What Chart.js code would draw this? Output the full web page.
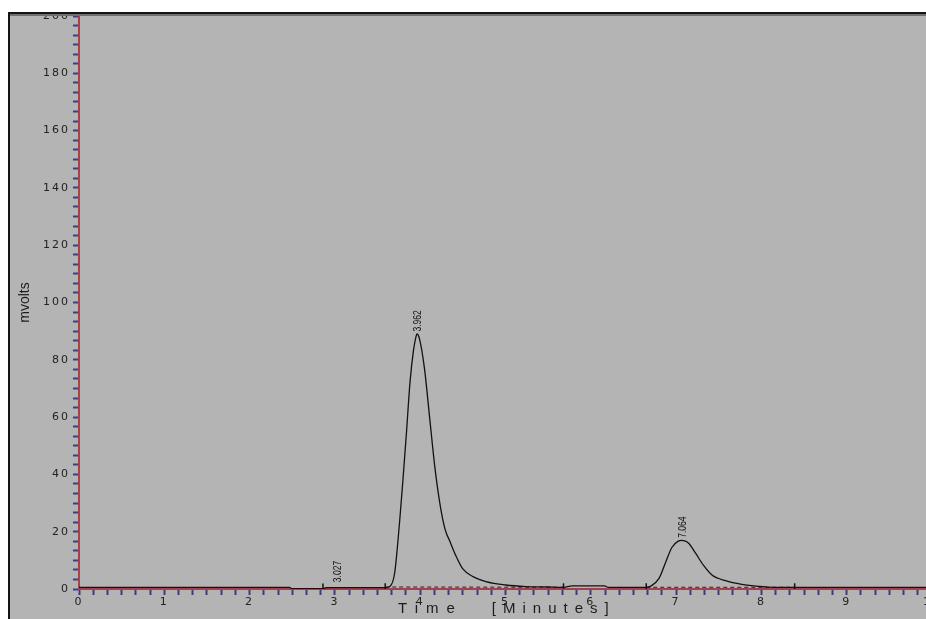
<!DOCTYPE html>
<html>
<head>
<meta charset="utf-8">
<script src="https://cdn.jsdelivr.net/npm/chart.js@4.4.1/dist/chart.umd.min.js"></script>
<style>
  html, body { margin: 0; padding: 0; background: #fff; overflow: hidden; width: 926px; height: 619px; }
  .frame { position: absolute; left: 8px; top: 12px; width: 940px; height: 620px;
    border-left: 2px solid #151515; border-top: 2px solid #151515; background: #b4b4b4; }
  .frame .shade { position: absolute; left: 0; top: 0; right: 0; height: 2px; background: #6e6e6e; }
  .box { position: absolute; left: 10px; top: 16px; }
</style>
</head>
<body>
<div class="frame"><div class="shade"></div></div>
<div class="box"><canvas id="chromChart" width="942" height="603"></canvas></div>
<script>
// detector trace (minutes, mV)
const traceTimes = [0, 2.47, 2.49, 2.86, 2.9, 3.59, 3.645, 3.7, 3.76, 3.8, 3.84, 3.88, 3.92, 3.95, 3.962,
  3.99, 4.05, 4.11, 4.17, 4.23, 4.29, 4.35, 4.42, 4.5, 4.62, 4.77, 5.0, 5.24, 5.5, 5.68, 5.78, 6.16, 6.2,
  6.65, 6.7, 6.8, 6.88, 6.95, 7.03, 7.064, 7.1, 7.15, 7.23, 7.32, 7.42, 7.58, 7.77, 7.97, 8.15, 10];
const traceValues = [0.6, 0.6, 0.15, 0.15, 0.45, 0.5, 0.9, 5.5, 24, 39, 55, 72, 83, 88, 89,
  87.5, 77, 60, 43, 30, 21, 16.5, 11.5, 7, 4.3, 2.6, 1.4, 0.85, 0.7, 0.6, 1.1, 1.1, 0.6,
  0.6, 0.9, 3.7, 9.5, 14.5, 16.8, 17, 16.8, 15.9, 12.4, 8.3, 4.9, 2.9, 1.6, 0.9, 0.6, 0.6];

// integration baselines and their start/end marks
const base1Times = [3.59, 5.68];
const base1Values = [0.7, 0.6];
const base2Times = [6.65, 8.39];
const base2Values = [0.6, 0.6];
const markTimes = [2.86, 3.59, 5.68, 6.65, 8.39];
const markValues = [0.5, 0.6, 0.6, 0.6, 0.6];

// retention time labels
const peakNames = ["3.027", "3.962", "7.064"];
const peakTimes = [3.027, 3.962, 7.064];
const peakTops = [2, 89.5, 17.5];

const xMax = 10;
const yMax = 200;

const toPoints = (xs, ys) => xs.map((t, i) => ({ x: t, y: ys[i] }));

const spacing = {
  id: "spacing",
  beforeDraw(chart) {
    chart.ctx.letterSpacing = "2px";
  },
  afterDraw(chart) {
    const { ctx, chartArea, scales: { x } } = chart;
    ctx.save();
    ctx.fillStyle = "#1c1c1c";
    // y title
    ctx.letterSpacing = "0px";
    ctx.font = "14px 'Liberation Sans'";
    ctx.textAlign = "center";
    ctx.textBaseline = "middle";
    ctx.translate(15, (chartArea.top + chartArea.bottom) / 2);
    ctx.rotate(-Math.PI / 2);
    ctx.fillText("mvolts", 0, 0);
    ctx.restore();

    ctx.save();
    ctx.fillStyle = "#1c1c1c";
    ctx.letterSpacing = "8px";
    ctx.font = "15px 'Liberation Sans'";
    ctx.textAlign = "left";
    ctx.textBaseline = "middle";
    ctx.fillText("Time", x.getPixelForValue(3.74), chartArea.bottom + 20);
    ctx.letterSpacing = "7px";
    ctx.fillText("[Minutes]", x.getPixelForValue(4.84), chartArea.bottom + 20);
    ctx.restore();
    ctx.letterSpacing = "0px";
  },
};

const peakLabels = {
  id: "peakLabels",
  afterDatasetsDraw(chart) {
    const { ctx, scales: { x, y } } = chart;
    ctx.save();
    ctx.letterSpacing = "0px";
    ctx.fillStyle = "#111";
    ctx.font = "11px 'Liberation Sans'";
    ctx.textAlign = "left";
    ctx.textBaseline = "middle";
    peakTimes.forEach((t, i) => {
      ctx.save();
      ctx.translate(x.getPixelForValue(t) + 1, y.getPixelForValue(peakTops[i]) - 1);
      ctx.rotate(-Math.PI / 2);
      ctx.scale(0.78, 1);
      ctx.fillText(peakNames[i], 0, 0);
      ctx.restore();
    });
    ctx.restore();
  },
};

const sixths = (max) => {
  const out = [];
  for (let i = 0; i <= max * 6; i++) out.push({ value: i / 6 });
  return out;
};

const chromChart = new Chart(document.getElementById("chromChart"), {
  type: "line",
  data: {
    datasets: [
      {
        data: toPoints(traceTimes, traceValues),
        borderColor: "#111",
        borderWidth: 1.3,
        pointRadius: 0,
        cubicInterpolationMode: "monotone",
      },
      {
        data: toPoints(base1Times, base1Values),
        borderColor: "#222",
        borderWidth: 1,
        borderDash: [4, 3],
        pointRadius: 0,
      },
      {
        data: toPoints(base2Times, base2Values),
        borderColor: "#222",
        borderWidth: 1,
        borderDash: [4, 3],
        pointRadius: 0,
      },
      {
        data: toPoints(markTimes, markValues),
        showLine: false,
        pointStyle: "line",
        rotation: 90,
        pointRadius: 4,
        pointBorderColor: "#111",
        pointBorderWidth: 1.5,
      },
    ],
  },
  options: {
    responsive: false,
    animation: false,
    layout: { autoPadding: false, padding: { left: 0, right: 20, top: 0, bottom: 0 } },
    plugins: { legend: { display: false }, tooltip: { enabled: false } },
    scales: {
      x: {
        type: "linear",
        min: 0,
        max: xMax,
        afterBuildTicks: (scale) => { scale.ticks = sixths(xMax); },
        afterFit: (scale) => { scale.height = 30; },
        ticks: {
          autoSkip: false,
          maxRotation: 0,
          padding: 1,
          color: "#222",
          font: { family: "DejaVu Sans", size: 11 },
          callback: (v) => (Math.abs(v - Math.round(v)) < 1e-6 ? String(Math.round(v)) : ""),
        },
        grid: { drawOnChartArea: false, tickLength: 6, tickColor: "#3b3b8c", tickWidth: 2 },
        border: { color: "#a8404c", width: 2 },
      },
      y: {
        min: 0,
        max: yMax,
        afterBuildTicks: (scale) => {
          scale.ticks = sixths(10).map((t) => ({ value: t.value * 20 }));
        },
        afterFit: (scale) => {
          scale.width = 69;
          scale.paddingTop = 0;
          scale.paddingBottom = 0;
        },
        ticks: {
          autoSkip: false,
          padding: 3,
          color: "#222",
          font: { family: "DejaVu Sans", size: 11 },
          callback: (v) => {
            const r = Math.round(v);
            return Math.abs(v - r) < 1e-6 && r % 20 === 0 ? String(r) : "";
          },
        },
        grid: { drawOnChartArea: false, tickLength: 6, tickColor: "#3b3b8c", tickWidth: 2 },
        border: { color: "#a8404c", width: 2 },
      },
    },
  },
  plugins: [spacing, peakLabels],
});
</script>
</body>
</html>
